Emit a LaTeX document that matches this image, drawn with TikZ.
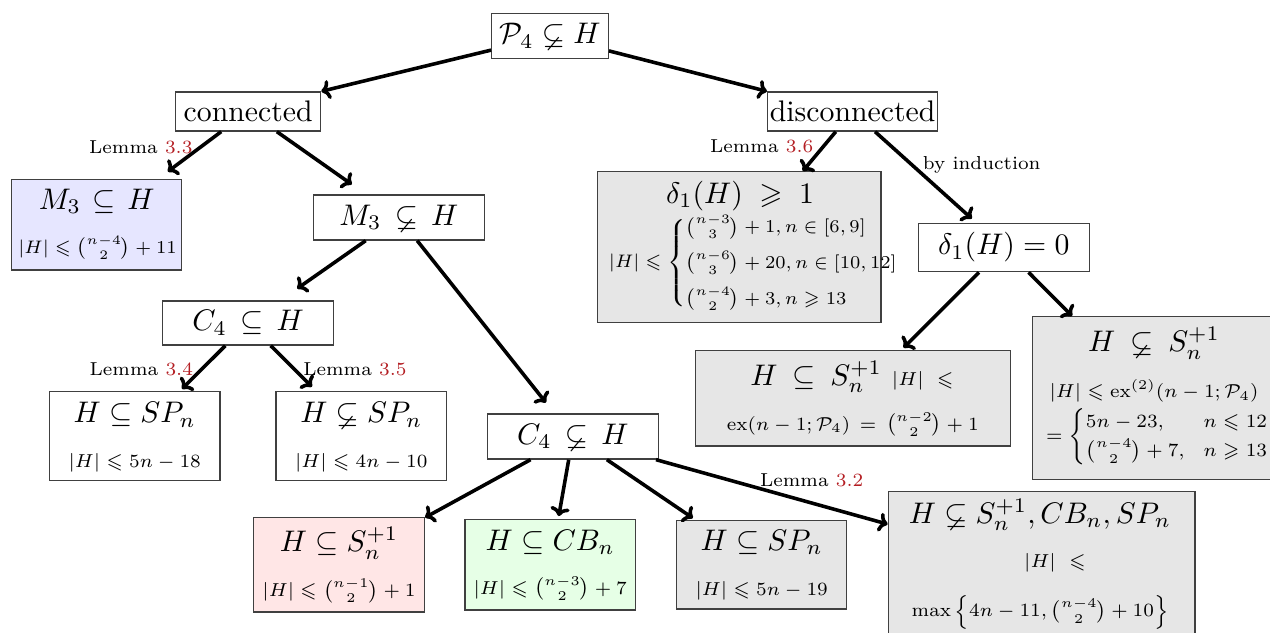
\documentclass[tikz,border=0pt]{standalone}
\usepackage{amsmath,amssymb,graphicx}
\usetikzlibrary{arrows.meta}
\definecolor{lemred}{RGB}{180,30,35}
\definecolor{bfill}{RGB}{230,230,255}
\definecolor{pfill}{RGB}{255,230,230}
\definecolor{gfill}{RGB}{230,255,230}
\definecolor{grfill}{RGB}{230,230,230}
\newcommand\sm[2][0.9]{\scalebox{#1}{\scriptsize #2}}
\newcommand\nsub{\varsubsetneq}
\begin{document}
\begin{tikzpicture}[x=0.336pt,y=-0.336pt,
  box/.style={draw=black!75,line width=0.45pt,inner sep=0pt,align=center},
  sz/.style 2 args={minimum width=#1*0.336pt,minimum height=#2*0.336pt},
  gbox/.style={box,fill=grfill},
  ttl/.style={inner sep=0pt,anchor=base},
  fml/.style={inner sep=0pt,anchor=base},
  cas/.style={inner sep=0pt,anchor=west},
  lem/.style={inner sep=0pt},
  arr/.style={very thick,-{To[length=3pt,width=6.5pt]}}]
\useasboundingbox (0,0) rectangle (1270,633);
\clip (0,0) rectangle (1270,633);

\node[box,sz={116.6}{45}] (root) at (550,35.8) {$\mathcal{P}_4\nsub H$};
\node[box,sz={145}{39}] (con) at (248.2,111.5) {connected};
\node[box,sz={170}{39}] (dis) at (852.6,111.5) {disconnected};

\node[box,fill=bfill,sz={170}{90.7}] (m3in) at (96.7,224.7) {};
\node[ttl] (m3in-t) at (96.7,209.3) {$M_3\mkern2mu\subseteq\mkern2mu H$};
\node[fml] (m3in-f) at (97.5,253.3) {\sm[0.87]{$|H|\leqslant\binom{n-4}{2}+11$}};

\node[box,sz={171}{45}] (m3out) at (398.8,217.5) {$M_3\,\nsub\,H$};
\node[box,sz={170.6}{44}] (c4in) at (248,323) {$C_4\,\subseteq\,H$};

\node[box,sz={170.7}{89}] (spin) at (134.7,436.2) {};
\node[ttl] (spin-t) at (134.7,422.7) {$H\subseteq SP_n$};
\node[fml] (spin-f) at (134.7,467) {\sm{$|H|\leqslant 5n-18$}};

\node[box,sz={170.7}{89}] (spout) at (361.3,436.2) {};
\node[ttl] (spout-t) at (361.3,422.7) {$H\nsub SP_n$};
\node[fml] (spout-f) at (361.3,467) {\sm{$|H|\leqslant 4n-10$}};

\node[box,sz={171}{45}] (c4out) at (572.8,436.5) {$C_4\,\nsub\,H$};

\node[box,fill=pfill,sz={171}{94.7}] (pink) at (339,564.7) {};
\node[ttl] (pink-t) at (339,551.7) {$H\subseteq S_n^{+1}$};
\node[fml] (pink-f) at (339,596.5) {\sm{$|H|\leqslant\binom{n-1}{2}+1$}};

\node[box,fill=gfill,sz={170.5}{90.7}] (green) at (550.2,564.7) {};
\node[ttl] (green-t) at (550.2,550) {$H\subseteq CB_n$};
\node[fml] (green-f) at (550.2,594) {\sm{$|H|\leqslant\binom{n-3}{2}+7$}};

\node[gbox,sz={170}{88.3}] (gsp) at (761.7,564.9) {};
\node[ttl] (gsp-t) at (761.7,550) {$H\subseteq SP_n$};
\node[fml] (gsp-f) at (761.7,595) {\sm{$|H|\leqslant 5n-19$}};

\node[gbox,sz={306.7}{150.6}] (big) at (1041.6,567) {};
\node[ttl] (big-t) at (1040,523.3) {$H\nsub S_n^{+1},CB_n,SP_n$};
\node[fml] (big-f1) at (1055,567.3) {\sm{$|H|\ \leqslant$}};
\node[fml] (big-f2) at (1040,616.7) {\sm{$\max\left\{4n-11,\binom{n-4}{2}+10\right\}$}};

\node[gbox,sz={283.7}{151}] (d1a) at (739.2,247.2) {};
\node[ttl] (d1a-t) at (740,203.3) {$\delta_1(H)\;\geqslant\;1$};
\node[cas] (d1a-f) at (608.3,263.3) {\sm[0.87]{$|H|\leqslant\begin{cases}\binom{n-3}{3}+1,n\in[6,9]\\[4.2pt]\binom{n-6}{3}+20,n\in[10,12]\\[4.2pt]\binom{n-4}{2}+3,n\geqslant 13\end{cases}$}};

\node[box,sz={171}{48.4}] (d10) at (1003.8,247.5) {$\delta_1(H)=0$};

\node[gbox,sz={315}{95.3}] (hins) at (853,398.4) {};
\node[ttl] (hins-t) at (852,385) {$H\:\subseteq\:S_n^{+1}$ \sm{$|H|\ \leqslant$}};
\node[fml] (hins-f) at (852.8,430) {\sm{$\mathrm{ex}(n-1;\mathcal{P}_4)\,=\,\binom{n-2}{2}+1$}};

\node[gbox,sz={242.4}{162.6}] (hnots) at (1153.8,398) {};
\node[ttl] (hnots-t) at (1154,351.7) {$H\:\nsub\:S_n^{+1}$};
\node[fml] (hnots-f1) at (1154,397.5) {\sm{$|H|\leqslant\mathrm{ex}^{(2)}(n-1;\mathcal{P}_4)$}};
\node[cas] (hnots-f2) at (1045.5,437) {\sm{$=\begin{cases}5n-23, & n\leqslant 12\\[1.2pt] \binom{n-4}{2}+7, & n\geqslant 13\end{cases}$}};

\draw[arr] (root) -- (con.north east);
\draw[arr] (root) -- (dis.north west);
\draw[arr,shorten >=4pt] (con) -- (m3in);
\draw[arr,shorten >=5.8pt] (con) -- (m3out);
\draw[arr] (dis) -- (d1a);
\draw[arr,shorten >=2pt] (dis) -- (d10);
\draw[arr,shorten >=6.9pt] (m3out) -- (c4in);
\draw[arr,shorten >=4.6pt] (m3out) -- (c4out);
\draw[arr,shorten >=1pt] (c4in) -- (spin);
\draw[arr,shorten >=2pt] (c4in) -- (spout);
\draw[arr] (c4out) -- (pink);
\draw[arr,shorten >=0.9pt] (c4out) -- (green);
\draw[arr,shorten >=1.2pt] (c4out) -- (gsp);
\draw[arr] (c4out) -- (big);
\draw[arr,shorten >=1.1pt] (d10) -- (hins);
\draw[arr] (d10) -- (hnots);

\node[lem] (l33) at (140.8,147) {\sm{Lemma \textcolor{lemred}{3.3}}};
\node[lem] (l36) at (761.7,146.5) {\sm{Lemma \textcolor{lemred}{3.6}}};
\node[lem] (lind) at (981.7,165) {\sm{by induction}};
\node[lem] (l34) at (141.3,369.5) {\sm{Lemma \textcolor{lemred}{3.4}}};
\node[lem] (l35) at (355,369.5) {\sm{Lemma \textcolor{lemred}{3.5}}};
\node[lem] (l32) at (811.7,480) {\sm{Lemma \textcolor{lemred}{3.2}}};
\end{tikzpicture}
\end{document}
